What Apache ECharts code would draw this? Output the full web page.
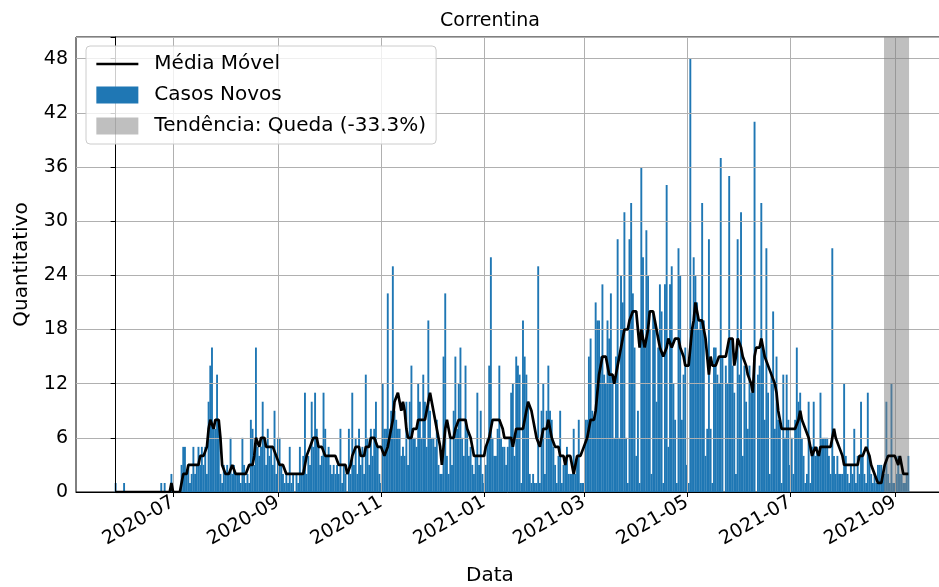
<!DOCTYPE html>
<html>
<head>
<meta charset="utf-8">
<script src="https://cdn.jsdelivr.net/npm/echarts@6/dist/echarts.min.js"></script>
<style>
  html, body { margin: 0; padding: 0; background: #fff; }
  #chart { width: 939px; height: 587px; }
</style>
</head>
<body>
<div id="chart"></div>
<script>
// daily series, first day = startDate
const startDate = '2020-05-28';

const casosNovos = [
    1,0,0,0,0,1,0,0,0,0,  0,0,0,0,0,0,0,0,0,0,
    0,0,0,0,0,0,0,1,0,1,  0,0,0,2,0,0,0,0,0,3,
    5,5,2,3,1,2,5,2,3,5,  3,5,3,5,2,10,14,16,7,7,
    13,8,2,1,3,2,3,2,6,2,  3,2,2,2,1,6,3,1,2,1,
    8,7,3,16,5,4,5,10,6,3,  7,4,5,3,9,2,6,6,3,2,
    1,2,1,5,1,2,0,2,1,5,  2,4,11,2,4,3,10,5,11,7,
    5,3,4,11,7,4,5,3,2,3,  2,3,2,7,1,3,2,0,7,2,
    11,3,6,2,7,3,5,2,13,6,  3,7,4,7,10,5,2,1,12,7,
    7,22,7,9,25,9,8,7,7,4,  5,4,10,3,10,14,6,6,5,12,
    10,6,13,10,5,19,9,6,6,5,  8,3,2,2,15,22,4,2,6,3,
    9,15,7,12,16,6,4,14,7,4,  5,3,2,4,11,3,9,2,1,3,
    6,14,26,6,4,4,7,14,6,5,  5,3,5,6,11,12,4,15,14,13,
    1,19,15,13,10,2,1,2,1,1,  25,1,9,12,2,9,14,9,8,5,
    3,1,4,9,1,3,3,5,2,2,  2,7,2,4,8,1,1,1,8,8,
    15,17,9,8,21,19,19,15,23,13,  12,19,17,22,13,6,15,28,6,24,
    21,31,6,1,28,32,22,16,4,9,  1,36,26,16,29,24,18,2,20,19,
    10,16,23,20,1,23,34,5,23,25,  12,8,1,27,24,8,13,16,3,1,
    48,18,26,24,21,18,19,32,19,4,  7,28,7,1,16,16,13,12,37,15,
    0,14,12,35,17,14,11,2,28,13,  31,4,14,10,7,14,11,12,41,0,
    13,14,32,16,8,27,11,2,13,20,  7,15,8,8,1,13,6,13,8,3,
    6,2,8,16,10,11,6,4,1,2,  10,1,5,10,4,5,4,11,6,6,
    6,6,4,2,27,4,2,4,2,2,  2,12,4,2,1,3,2,7,1,4,
    2,10,4,2,1,11,4,2,1,2,  1,3,3,3,2,2,10,2,1,12,
    1,1,2,4,2,2,1,1,2,4
];

const mediaMovel = [
    0,0,0,0,0,0,0,0,0,0,  0,0,0,0,0,0,0,0,0,0,
    0,0,0,0,0,0,0,0,0,0,  0,0,0,1,0,0,0,0,0,1,
    2,2,2,3,3,3,3,3,3,3,  4,4,4,4,5,7,8,8,7,8,
    8,8,6,3,3,2,2,2,2,3,  3,2,2,2,2,2,2,2,2,3,
    3,3,4,6,6,5,6,6,6,5,  5,5,5,5,5,4,4,3,3,3,
    3,2,2,2,2,2,2,2,2,2,  2,2,3,4,4,5,5,6,6,6,
    5,5,5,5,4,4,4,4,4,4,  4,4,3,3,3,3,3,2,2,3,
    4,4,5,5,5,4,4,4,5,5,  5,6,6,6,6,5,5,5,5,4,
    4,5,6,7,8,10,10,11,11,9,  10,9,7,6,6,6,7,7,7,8,
    8,8,8,8,9,10,11,10,9,8,  7,6,5,3,3,7,8,7,6,6,
    6,7,7,8,8,8,8,8,7,7,  6,5,4,4,4,4,4,4,4,5,
    5,6,7,8,8,8,8,8,8,7,  6,6,6,6,6,5,6,7,7,7,
    7,7,8,9,10,10,9,8,7,6,  6,5,6,7,7,7,8,7,6,6,
    5,5,5,4,4,4,3,4,4,4,  3,2,3,4,4,4,4,5,5,6,
    7,8,8,8,9,11,13,14,15,15,  15,14,13,13,13,12,12,14,15,16,
    17,18,18,18,19,19,20,20,20,18,  16,18,17,16,17,18,20,20,20,19,
    18,17,16,16,15,15,16,17,17,16,  16,17,17,17,16,16,15,14,14,14,
    16,18,19,21,20,19,19,19,18,17,  15,13,15,14,14,14,14,15,15,15,
    15,15,16,17,17,17,14,15,17,17,  16,15,15,14,13,13,12,11,15,16,
    16,16,17,16,15,15,14,14,13,13,  12,11,9,8,7,7,7,7,7,7,
    7,7,7,7,8,9,8,8,7,7,  6,5,4,4,5,5,4,5,5,5,
    5,5,5,5,6,7,6,6,5,5,  4,3,3,3,3,3,3,3,3,3,
    4,4,4,4,5,5,4,3,3,2,  2,1,1,1,2,3,3,4,4,4,
    4,4,4,3,4,3,2,2,2,2
];

const tickDates = ['2020-07-01', '2020-09-01', '2020-11-01', '2021-01-01',
                   '2021-03-01', '2021-05-01', '2021-07-01', '2021-09-01'];
const yTicks = [0, 6, 12, 18, 24, 30, 36, 42, 48];
const trendRange = ['2021-08-26', '2021-09-09'];
const trendName = 'Tendência: Queda (-33.3%)';

function dayIndex(s) {
    return Math.round((Date.parse(s) - Date.parse(startDate)) / 86400000);
}

const nDays = casosNovos.length;
const span = nDays - 1;
const tickDays = tickDates.map(dayIndex);
const tickText = {};
tickDates.forEach(function(d, i) { tickText[tickDays[i]] = d.slice(0, 7); });

const barData = casosNovos.map(function(v, i) { return [i, v]; });
const lineData = mediaMovel.map(function(v, i) { return [i, v]; });

const font = 'DejaVu Sans';
const chart = echarts.init(document.getElementById('chart'), null, { renderer: 'canvas' });

let option = {
    animation: false,
    backgroundColor: '#fff',
    textStyle: { fontFamily: font },
    grid: {
        left: 76, top: 37, bottom: 95, right: -9,
        outerBoundsMode: 'none',
        containLabel: false,
        show: true, borderColor: '#000', borderWidth: 1, backgroundColor: 'transparent'
    },
    graphic: [
        { type: 'text', x: 490, y: 21, z: 10,
          style: { text: 'Correntina', fontSize: 19, fontFamily: font, fill: '#000', align: 'center', verticalAlign: 'middle' } },
        { type: 'text', x: 490, y: 576, z: 10,
          style: { text: 'Data', fontSize: 20, fontFamily: font, fill: '#000', align: 'center', verticalAlign: 'middle' } }
    ],
    legend: {
        orient: 'vertical',
        left: 86, top: 46,
        padding: [8, 10, 8, 9],
        itemGap: 11,
        itemWidth: 42, itemHeight: 17,
        backgroundColor: 'rgba(255,255,255,0.8)',
        borderColor: '#cccccc', borderWidth: 1, borderRadius: 4,
        textStyle: { fontSize: 20, fontFamily: font, color: '#000', lineHeight: 20, padding: [0, 0, 0, 11] },
        data: [
            { name: 'Média Móvel', itemStyle: { opacity: 0 }, lineStyle: { width: 2.7, color: '#000' } },
            { name: 'Casos Novos', icon: 'rect' },
            { name: trendName, icon: 'rect' }
        ],
        z: 20
    },
    xAxis: {
        type: 'value',
        min: -0.05 * span,
        max: span + 0.05 * span,
        z: 3,
        axisLine: { show: true, lineStyle: { color: '#000', width: 1 } },
        axisTick: { show: true, length: 5, lineStyle: { color: '#000' }, customValues: tickDays },
        axisLabel: {
            customValues: tickDays,
            rotate: 30, fontSize: 19, color: '#000', margin: 9, fontFamily: font,
            formatter: function(v) { return tickText[Math.round(v)] || ''; }
        },
        splitLine: { show: true, lineStyle: { color: '#b0b0b0', width: 1 } }
    },
    yAxis: {
        type: 'value',
        min: 0, max: 50.4, interval: 6,
        z: 3,
        name: 'Quantitativo',
        nameLocation: 'middle', nameRotate: 90, nameGap: 44,
        nameTextStyle: { fontSize: 20, color: '#000', fontFamily: font },
        axisLine: { show: true, lineStyle: { color: '#000', width: 1 } },
        axisTick: { show: true, length: 5, lineStyle: { color: '#000' } },
        axisLabel: {
            fontSize: 19, color: '#000', margin: 8, fontFamily: font,
            formatter: function(v) { return yTicks.indexOf(v) >= 0 ? String(v) : ''; }
        },
        splitLine: { show: true, lineStyle: { color: '#b0b0b0', width: 1 } }
    },
    series: [
        {
            name: 'Casos Novos',
            type: 'bar',
            data: barData,
            barWidth: 1.9,
            itemStyle: { color: '#1f77b4' },
            z: 2
        },
        {
            name: trendName,
            type: 'line',
            data: [],
            itemStyle: { color: 'rgba(128,128,128,0.5)' },
            markArea: {
                silent: true,
                z: 4,
                itemStyle: { color: 'rgba(128,128,128,0.5)' },
                data: [[
                    { xAxis: dayIndex(trendRange[0]) - 0.4 },
                    { xAxis: dayIndex(trendRange[1]) + 0.4 }
                ]]
            },
            z: 4
        },
        {
            name: 'Média Móvel',
            type: 'line',
            data: lineData,
            symbol: 'none',
            lineStyle: { color: '#000', width: 2.7 },
            itemStyle: { color: '#000' },
            z: 5
        }
    ]
};

chart.setOption(option);
</script>
</body>
</html>
